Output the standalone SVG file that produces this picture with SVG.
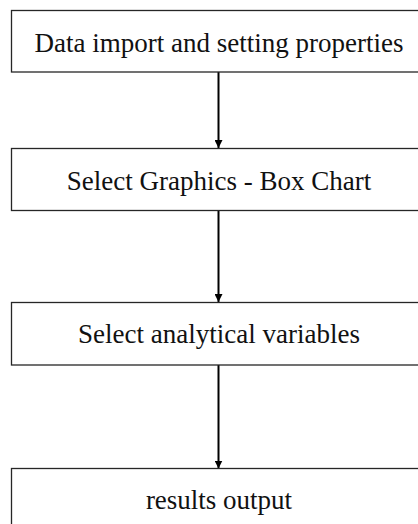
<svg xmlns="http://www.w3.org/2000/svg" width="418" height="524" viewBox="0 0 418 524">
<style>
.box{fill:#fff;stroke:#262626;stroke-width:1.3}
.lbl{font-family:"Liberation Serif","Times New Roman",serif;font-size:27px;fill:#111;text-anchor:middle}
.con{stroke:#000;stroke-width:2;fill:none}
</style>
<defs>
<marker id="ah" markerWidth="8" markerHeight="8" refX="8" refY="4" orient="auto" markerUnits="userSpaceOnUse">
<path d="M0,0 L8,4 L0,8 Z" fill="#000"/>
</marker>
</defs>
<rect width="418" height="524" fill="#fff"/>
<g id="connectors">
<line class="con" x1="218.5" y1="72" x2="218.5" y2="148" marker-end="url(#ah)"/>
<line class="con" x1="218.5" y1="211" x2="218.5" y2="302" marker-end="url(#ah)"/>
<line class="con" x1="218.5" y1="365" x2="218.5" y2="468.5" marker-end="url(#ah)"/>
</g>
<g id="n1">
<rect class="box" x="11.5" y="10.5" width="415" height="61.5"/>
<text class="lbl" x="219" y="52">Data import and setting properties</text>
</g>
<g id="n2">
<rect class="box" x="11.5" y="148.5" width="415" height="62"/>
<text class="lbl" x="219" y="189.5">Select Graphics - Box Chart</text>
</g>
<g id="n3">
<rect class="box" x="11.5" y="302.5" width="415" height="62.5"/>
<text class="lbl" x="219" y="342.5">Select analytical variables</text>
</g>
<g id="n4">
<rect class="box" x="11.5" y="468.5" width="415" height="62"/>
<text class="lbl" x="219" y="508.5">results output</text>
</g>
</svg>
